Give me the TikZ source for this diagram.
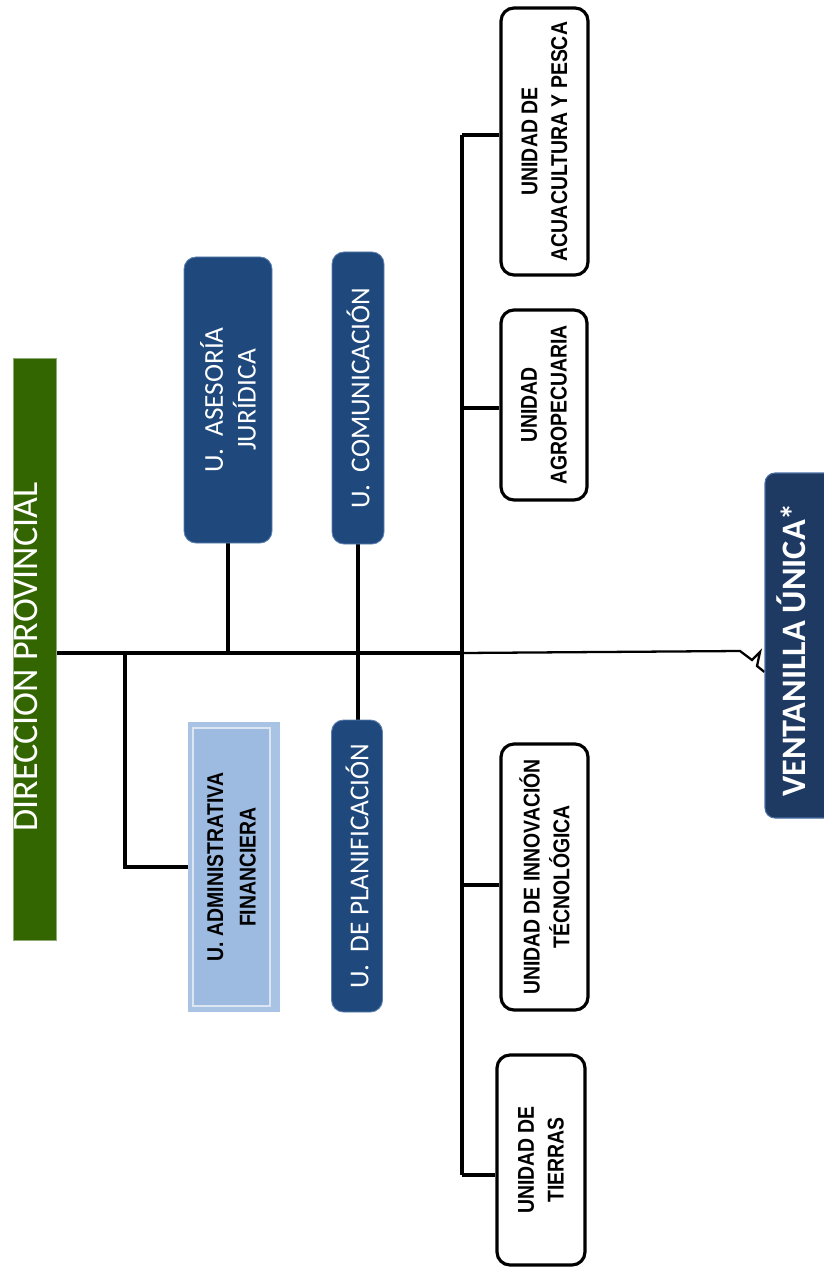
\documentclass[tikz,border=0pt]{standalone}
\usepackage{fontspec}
\setmainfont{Carlito}
\newfontfamily\narrowsans[FakeStretch=0.85]{Liberation Sans}
\usetikzlibrary{backgrounds}
\pgfdeclarelayer{edgelayer}
\pgfdeclarelayer{nodelayer}
\pgfsetlayers{edgelayer,nodelayer,main}
\definecolor{dirgreen}{HTML}{336600}
\definecolor{navy}{HTML}{1F497D}
\definecolor{navyedge}{HTML}{5B7FAF}
\definecolor{ventnavy}{HTML}{1F3A62}
\definecolor{ventedge}{HTML}{4A6FA5}
\definecolor{adminfill}{HTML}{9DBAE0}
\definecolor{adminglow}{HTML}{A9C3E4}
\definecolor{adminframe}{HTML}{DCE6F2}
\tikzstyle{none}=[inner sep=0pt]
\tikzstyle{dirbox}=[rectangle,rotate=90,fill=dirgreen,draw=dirgreen!55!white,line width=0.5pt,minimum width=116.4mm,minimum height=8.6mm,inner sep=0pt]
\tikzstyle{dirlabel}=[rotate=90,inner sep=0pt,text=white,font=\fontsize{20.5}{24}\selectfont]
\tikzstyle{navybox}=[rectangle,rotate=90,rounded corners=2.4mm,fill=navy,draw=navyedge,line width=0.5pt,inner sep=0pt,align=center,text=white,font=\fontsize{15.5}{18.7}\selectfont]
\tikzstyle{unitbox}=[rectangle,rotate=90,rounded corners=2.6mm,fill=white,draw=black,line width=1.8pt,inner sep=0pt,align=center,font=\narrowsans\bfseries\fontsize{13}{17}\selectfont]
\tikzstyle{glow}=[rectangle,rotate=90,fill=adminglow,inner sep=0pt]
\tikzstyle{adminbox}=[rectangle,rotate=90,fill=adminfill,draw=adminframe,line width=0.8pt,inner sep=0pt,align=center,font=\narrowsans\bfseries\fontsize{13}{18.5}\selectfont]
\tikzstyle{ventbox}=[rectangle,rotate=90,rounded corners=2mm,fill=ventnavy,draw=ventedge,line width=0.6pt,inner sep=0pt]
\tikzstyle{ventlabel}=[rotate=90,inner sep=0pt,text=white,font=\bfseries\fontsize{19.5}{23}\selectfont]
\tikzstyle{link}=[line width=2pt]
\tikzstyle{thinlink}=[line width=1.3pt]

\begin{document}
\begin{tikzpicture}[x=0.2mm,y=-0.2mm]
	\useasboundingbox (0,0) rectangle (824,1269);
	\begin{pgfonlayer}{nodelayer}
		\node [style=dirbox] (dir) at (34.5, 649) {};
		\node [style=dirlabel] (dirtext) at (26, 657) {DIRECCION PROVINCIAL};
		\node [style=navybox, minimum width=57.2mm, minimum height=17.6mm] (asesoria) at (228, 400) {U.\ \ ASESORÍA\\JURÍDICA};
		\node [style=navybox, minimum width=58.4mm, minimum height=10.4mm] (comunicacion) at (358, 398) {U.\ \ COMUNICACIÓN};
		\node [style=navybox, minimum width=58.4mm, minimum height=10.2mm] (planificacion) at (357, 866) {U.\ \ DE PLANIFICACIÓN};
		\node [style=glow, minimum width=58mm, minimum height=18.4mm] (adminglow) at (234, 867) {};
		\node [style=adminbox, minimum width=55.6mm, minimum height=15.4mm] (admin) at (231.5, 867) {U. ADMINISTRATIVA\\FINANCIERA};
		\node [style=unitbox, minimum width=53.4mm, minimum height=17.4mm] (acua) at (544.5, 141.5) {UNIDAD DE\\ACUACULTURA Y PESCA};
		\node [style=unitbox, minimum width=38mm, minimum height=17.2mm] (agro) at (544, 405) {UNIDAD\\AGROPECUARIA};
		\node [style=unitbox, minimum width=53.2mm, minimum height=17.4mm] (inno) at (544.5, 877) {UNIDAD DE INNOVACIÓN\\TÉCNOLÓGICA};
		\node [style=unitbox, minimum width=42mm, minimum height=17.6mm] (tierras) at (541, 1160) {UNIDAD DE\\TIERRAS};
		\node [style=ventbox, minimum width=69mm, minimum height=15mm] (vent) at (802.5, 645.5) {};
		\node [style=ventlabel] (venttext) at (791, 650) {VENTANILLA ÚNICA*};
	\end{pgfonlayer}
	\begin{pgfonlayer}{edgelayer}
		\coordinate (hub) at (462, 653);
		\coordinate (fork) at (125, 653);
		\coordinate (b1) at (462, 135);
		\coordinate (b2) at (462, 408);
		\coordinate (b3) at (462, 885);
		\coordinate (b4) at (462, 1175);
		\coordinate (ventin) at (vent.north |- 0,672);
		\draw [style=link] (dir.south |- hub) to (hub);
		\draw [style=link] (fork) |- (admin.north);
		\draw [style=link] (asesoria.west) to (asesoria.west |- hub);
		\draw [style=link] (comunicacion.west) to (comunicacion.west |- planificacion.east);
		\draw [style=link] (b1) to (b4);
		\draw [style=link] (b1) to (b1 -| acua.north);
		\draw [style=link] (b2) to (b2 -| agro.north);
		\draw [style=link] (b3) to (b3 -| inno.north);
		\draw [style=link] (b4) to (b4 -| tierras.north);
		\draw [style=thinlink] (hub) -- (740, 651) -- (752, 660) -- (760, 652) -- (757, 666) -- (ventin);
	\end{pgfonlayer}
\end{tikzpicture}
\end{document}
